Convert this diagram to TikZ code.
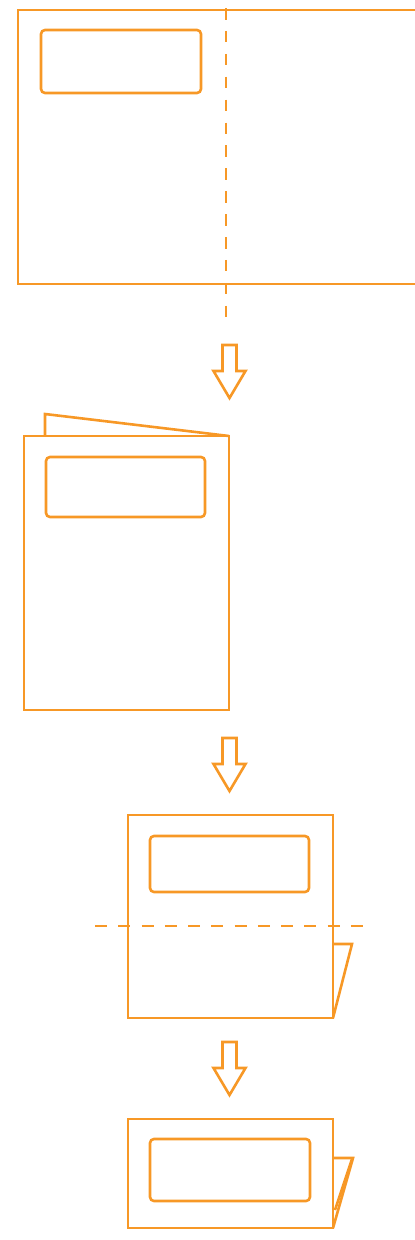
\documentclass[tikz,border=0pt]{standalone}
\usetikzlibrary{calc}
\definecolor{foldorange}{RGB}{247,152,38}
\tikzset{
  sheet line/.style={
    draw=foldorange,
    line width=2.6pt,
    line join=miter,
  },
  window line/.style={
    draw=foldorange,
    line width=2.6pt,
    rounded corners=4pt,
  },
  fold line/.style={
    draw=foldorange,
    line width=2.6pt,
  },
  fold arrow/.style={
    draw=foldorange,
    line width=2.6pt,
    line join=miter,
    fill=white,
  },
}

\begin{document}
\begin{tikzpicture}[x=1pt,y=-1pt]
  \useasboundingbox (0,0) rectangle (415,1240);
  \clip (0,0) rectangle (415,1240);

  % step 1: open sheet, folded along the vertical line
  \coordinate (s1nw) at (18,10);
  \coordinate (s1se) at (425,284);
  \draw[sheet line] (s1nw) rectangle (s1se);
  \draw[window line] (41,30) rectangle (201,93);
  \draw[fold line, dash pattern=on 11.5pt off 11.4pt] (226,8) -- (226,317);

  % step 2: folded in half
  \coordinate (s2nw) at (24,436);
  \coordinate (s2se) at (229,710);
  \draw[sheet line] (45,436) -- (45,414) -- (s2se |- s2nw);
  \draw[sheet line] (s2nw) rectangle (s2se);
  \draw[window line] (46,457) rectangle (205,517);

  % step 3: folded along the horizontal line
  \coordinate (s3nw) at (128,815);
  \coordinate (s3se) at (333,1018);
  \draw[sheet line] (s3se |- 0,944) -- (352,944) -- (s3se);
  \draw[sheet line] (s3nw) rectangle (s3se);
  \draw[window line] (150,836) rectangle (309,892);
  \draw[fold line, dash pattern=on 12pt off 11.27pt] (95,926) -- (363,926);

  % step 4: finished
  \coordinate (s4nw) at (128,1119);
  \coordinate (s4se) at (333,1228);
  \draw[sheet line] (s4se |- 0,1158) -- (353,1158) -- (s4se);
  \draw[sheet line] (352,1159) -- (335,1210);
  \draw[sheet line] (s4nw) rectangle (s4se);
  \draw[window line] (150,1139) rectangle (310,1201);

  % arrows between the steps
  \foreach \y in {345,738,1042}
    \draw[fold arrow] (222.5,\y) -- ++(0,26) -- ++(-9,0) -- ++(16,27)
      -- ++(16,-27) -- ++(-9,0) -- ++(0,-26) -- cycle;
\end{tikzpicture}
\end{document}
